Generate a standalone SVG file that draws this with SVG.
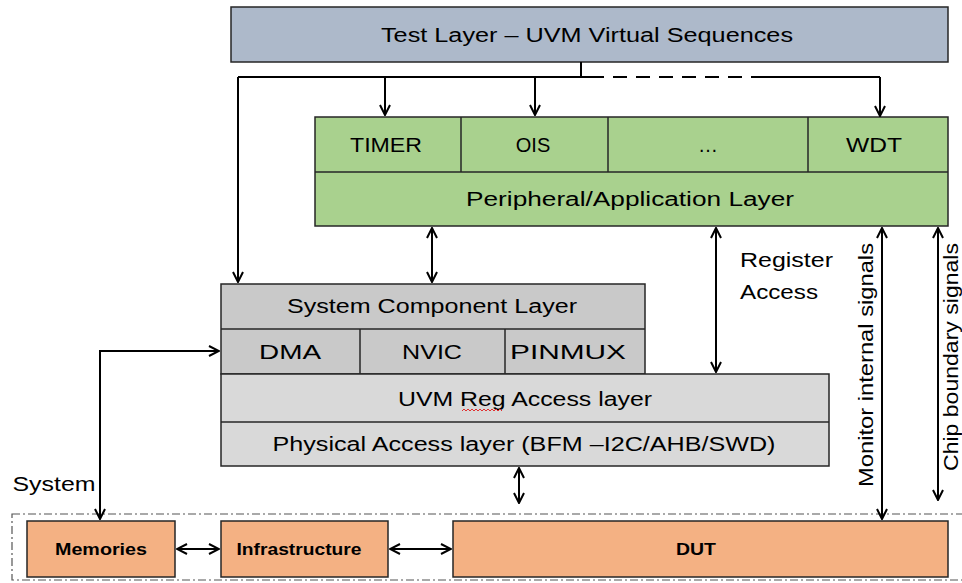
<svg xmlns="http://www.w3.org/2000/svg" width="962" height="583" viewBox="0 0 962 583">
<style>
.box{stroke:#262626;stroke-width:1.5}
.blue{fill:#adb9ca}
.green{fill:#a9d18e}
.dgray{fill:#c9c9c9}
.lgray{fill:#d9d9d9}
.orange{fill:#f4b183}
.t{font-family:"Liberation Sans",Arial,sans-serif;font-size:20px;fill:#000;text-anchor:middle;dominant-baseline:central}
.tb{font-family:"Liberation Sans",Arial,sans-serif;font-size:16px;font-weight:bold;fill:#000;text-anchor:middle;dominant-baseline:central}
.c{fill:none;stroke:#000;stroke-width:2}
.a{marker-end:url(#ah)}
.aa{marker-end:url(#ah);marker-start:url(#ah)}
</style>
<defs>
<marker id="ah" viewBox="0 0 12 12" refX="11" refY="6" markerWidth="12" markerHeight="12" markerUnits="userSpaceOnUse" orient="auto-start-reverse">
<path d="M1,1 L11,6 L1,11" fill="none" stroke="#000" stroke-width="2"/>
</marker>
</defs>
<rect width="962" height="583" fill="#fff"/>

<g id="test-layer">
<rect class="box blue" x="231" y="7" width="717" height="55"/>
<text class="t" x="587" y="35" font-size="22" textLength="412" lengthAdjust="spacingAndGlyphs">Test Layer – UVM Virtual Sequences</text>
</g>

<g id="peripheral-layer">
<rect class="box green" x="315" y="117" width="633" height="109"/>
<line class="box" x1="315" y1="172" x2="948" y2="172"/>
<line class="box" x1="461" y1="117" x2="461" y2="172"/>
<line class="box" x1="608" y1="117" x2="608" y2="172"/>
<line class="box" x1="808" y1="117" x2="808" y2="172"/>
<text class="t" x="386" y="145" textLength="72" lengthAdjust="spacingAndGlyphs">TIMER</text>
<text class="t" x="533" y="145">OIS</text>
<text class="t" x="708" y="145">…</text>
<text class="t" x="874" y="145" textLength="56" lengthAdjust="spacingAndGlyphs">WDT</text>
<text class="t" x="630" y="199" textLength="328" lengthAdjust="spacingAndGlyphs">Peripheral/Application Layer</text>
</g>

<g id="system-component-layer">
<rect class="box dgray" x="221" y="284" width="424" height="90"/>
<line class="box" x1="221" y1="329" x2="645" y2="329"/>
<line class="box" x1="360" y1="329" x2="360" y2="374"/>
<line class="box" x1="505" y1="329" x2="505" y2="374"/>
<text class="t" x="432" y="306" textLength="290" lengthAdjust="spacingAndGlyphs">System Component Layer</text>
<text class="t" x="290" y="352" textLength="62" lengthAdjust="spacingAndGlyphs">DMA</text>
<text class="t" x="432" y="352" textLength="60" lengthAdjust="spacingAndGlyphs">NVIC</text>
<text class="t" x="568" y="352" textLength="116" lengthAdjust="spacingAndGlyphs">PINMUX</text>
</g>

<g id="reg-access-layer">
<rect class="box lgray" x="221" y="374" width="608" height="92"/>
<line class="box" x1="221" y1="422" x2="829" y2="422"/>
<text class="t" x="525" y="399" textLength="254" lengthAdjust="spacingAndGlyphs">UVM Reg Access layer</text>
<path d="M462,411 l2,-2 l2,2 l2,-2 l2,2 l2,-2 l2,2 l2,-2 l2,2 l2,-2 l2,2 l2,-2 l2,2 l2,-2 l2,2 l2,-2 l2,2 l2,-2 l2,2 l2,-2 l2,2" fill="none" stroke="#e03030" stroke-width="1"/>
<text class="t" x="524" y="444" textLength="503" lengthAdjust="spacingAndGlyphs">Physical Access layer (BFM –I2C/AHB/SWD)</text>
</g>

<g id="system">
<rect x="12" y="514" width="960" height="66" fill="none" stroke="#555" stroke-width="1.2" stroke-dasharray="8,3,2,3"/>
<text class="t" x="54" y="484" textLength="83" lengthAdjust="spacingAndGlyphs">System</text>
</g>

<g id="memories">
<rect class="box orange" x="27" y="521" width="148" height="56"/>
<text class="tb" x="101" y="549" textLength="92" lengthAdjust="spacingAndGlyphs">Memories</text>
</g>
<g id="infrastructure">
<rect class="box orange" x="221" y="521" width="167" height="56"/>
<text class="tb" x="299" y="549" textLength="125" lengthAdjust="spacingAndGlyphs">Infrastructure</text>
</g>
<g id="dut">
<rect class="box orange" x="453" y="521" width="495" height="56"/>
<text class="tb" x="696" y="549" textLength="40" lengthAdjust="spacingAndGlyphs">DUT</text>
</g>

<g id="labels">
<text class="t" x="740" y="260" style="text-anchor:start" textLength="93" lengthAdjust="spacingAndGlyphs">Register</text>
<text class="t" x="740" y="292" style="text-anchor:start" textLength="78" lengthAdjust="spacingAndGlyphs">Access</text>
<text class="t" transform="translate(866,365) rotate(-90)" x="0" y="0" textLength="244" lengthAdjust="spacingAndGlyphs">Monitor internal signals</text>
<text class="t" transform="translate(951,357) rotate(-90)" x="0" y="0" font-size="18" textLength="228" lengthAdjust="spacingAndGlyphs">Chip boundary signals</text>
</g>

<g id="connectors">
<path class="c" d="M581,62 V77"/>
<path class="c" d="M238,77 H590"/>
<path class="c" d="M590,77 H760" stroke-dasharray="14,9"/>
<path class="c" d="M760,77 H880"/>
<path class="c a" d="M385,77 V115"/>
<path class="c a" d="M535,77 V115"/>
<path class="c a" d="M880,77 V116"/>
<path class="c a" d="M238,77 V282"/>
<path class="c aa" d="M432,228 V282"/>
<path class="c aa" d="M716,228 V372"/>
<path class="c aa" d="M882,228 V519"/>
<path class="c aa" d="M938,228 V500"/>
<path class="c aa" d="M519,468 V503"/>
<path class="c aa" d="M100,519 V351 H219"/>
<path class="c aa" d="M177,549 H219"/>
<path class="c aa" d="M390,549 H451"/>
</g>
</svg>
